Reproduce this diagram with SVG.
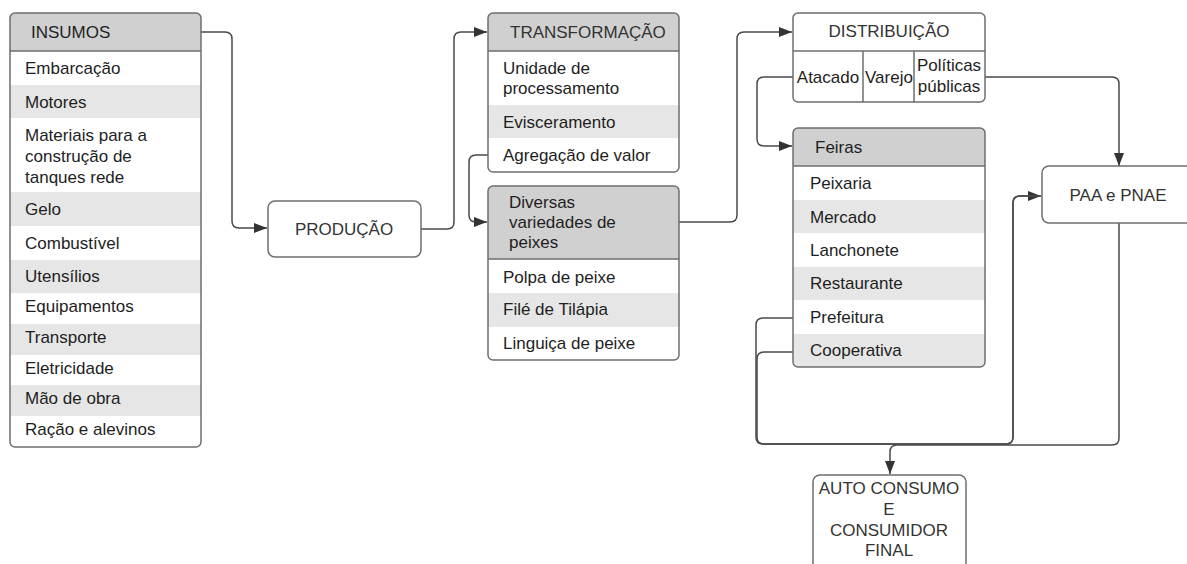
<svg xmlns="http://www.w3.org/2000/svg" width="1187" height="564" viewBox="0 0 1187 564">
<style>
text{font-family:"Liberation Sans",Arial,sans-serif;font-size:17px;fill:#1e1e1e}
.hdr{fill:#d0d0d0}
.alt{fill:#e6e6e6}
.frame{fill:none;stroke:#6e6e6e;stroke-width:1.5}
.sep{stroke:#6e6e6e;stroke-width:1.5}
.plain{fill:#ffffff;stroke:#6e6e6e;stroke-width:1.5}
.lbl{fill:#333333}
.c{text-anchor:middle}
.conn path{fill:none;stroke:#4a4a4a;stroke-width:1.5}
</style>
<defs>
<marker id="arr" markerUnits="userSpaceOnUse" markerWidth="14" markerHeight="12" refX="13" refY="5" orient="auto">
<path d="M0,0 L13,5 L0,10 Z" fill="#333"/>
</marker>
<clipPath id="cpIns"><rect x="10" y="13" width="191" height="434" rx="5"/></clipPath>
<clipPath id="cpTr"><rect x="488" y="13" width="191" height="159" rx="5"/></clipPath>
<clipPath id="cpDv"><rect x="488" y="186" width="191" height="174" rx="5"/></clipPath>
<clipPath id="cpFe"><rect x="793" y="128" width="192" height="239" rx="5"/></clipPath>
</defs>

<g class="conn" id="connectors">
<path d="M201,32 H225 Q232,32 232,39 V221 Q232,228 239,228 H267" marker-end="url(#arr)"/>
<path d="M421,229 H447 Q454,229 454,222 V39 Q454,32 461,32 H487" marker-end="url(#arr)"/>
<path d="M488,155 H476 Q469,155 469,162 V215 Q469,222 476,222 H487" marker-end="url(#arr)"/>
<path d="M679,222 H730 Q737,222 737,215 V39 Q737,32 744,32 H792" marker-end="url(#arr)"/>
<path d="M793,77 H764 Q757,77 757,84 V139 Q757,146 764,146 H792" marker-end="url(#arr)"/>
<path d="M985,77 H1112 Q1119,77 1119,84 V166" marker-end="url(#arr)"/>
<path d="M793,318 H763 Q756,318 756,325 V437 Q756,444 763,444 H1006 Q1013,444 1013,437 V203 Q1013,196 1020,196 H1041" marker-end="url(#arr)"/>
<path d="M793,352 H764 Q757,352 757,359 V437 Q757,444 764,444 H1006 Q1013,444 1013,437 V203 Q1013,196 1020,196 H1041"/>
<path d="M1119,223 V438 Q1119,445 1112,445 H897 Q890,445 890,452 V474" marker-end="url(#arr)"/>
</g>

<g id="insumos">
<g clip-path="url(#cpIns)">
<rect x="10" y="13" width="191" height="434" fill="#fff"/>
<rect class="hdr" x="10" y="13" width="191" height="38"/>
<rect class="alt" x="10" y="85" width="191" height="33"/>
<rect class="alt" x="10" y="192" width="191" height="34"/>
<rect class="alt" x="10" y="260" width="191" height="33"/>
<rect class="alt" x="10" y="324" width="191" height="31"/>
<rect class="alt" x="10" y="385" width="191" height="31"/>
</g>
<line class="sep" x1="10" y1="51" x2="201" y2="51"/>
<rect class="frame" x="10" y="13" width="191" height="434" rx="5"/>
<text x="31" y="38">INSUMOS</text>
<text x="25" y="74">Embarcação</text>
<text x="25" y="108">Motores</text>
<text x="25" y="141">Materiais para a</text>
<text x="25" y="162">construção de</text>
<text x="25" y="183">tanques rede</text>
<text x="25" y="215">Gelo</text>
<text x="25" y="249">Combustível</text>
<text x="25" y="282">Utensílios</text>
<text x="25" y="312">Equipamentos</text>
<text x="25" y="343">Transporte</text>
<text x="25" y="374">Eletricidade</text>
<text x="25" y="404">Mão de obra</text>
<text x="25" y="435">Ração e alevinos</text>
</g>

<g id="producao">
<rect class="plain" x="268" y="201" width="153" height="56" rx="7"/>
<text class="c lbl" x="344" y="235">PRODUÇÃO</text>
</g>

<g id="transformacao">
<g clip-path="url(#cpTr)">
<rect x="488" y="13" width="191" height="159" fill="#fff"/>
<rect class="hdr" x="488" y="13" width="191" height="38"/>
<rect class="alt" x="488" y="105" width="191" height="33"/>
</g>
<line class="sep" x1="488" y1="51" x2="679" y2="51"/>
<rect class="frame" x="488" y="13" width="191" height="159" rx="5"/>
<text x="510" y="38" class="lbl">TRANSFORMAÇÃO</text>
<text x="503" y="74">Unidade de</text>
<text x="503" y="94">processamento</text>
<text x="503" y="128">Evisceramento</text>
<text x="503" y="161">Agregação de valor</text>
</g>

<g id="variedades">
<g clip-path="url(#cpDv)">
<rect x="488" y="186" width="191" height="174" fill="#fff"/>
<rect class="hdr" x="488" y="186" width="191" height="73"/>
<rect class="alt" x="488" y="293" width="191" height="34"/>
</g>
<line class="sep" x1="488" y1="259" x2="679" y2="259"/>
<rect class="frame" x="488" y="186" width="191" height="174" rx="5"/>
<text x="509" y="208">Diversas</text>
<text x="509" y="228">variedades de</text>
<text x="509" y="248">peixes</text>
<text x="503" y="283">Polpa de peixe</text>
<text x="503" y="315">Filé de Tilápia</text>
<text x="503" y="349">Linguiça de peixe</text>
</g>

<g id="distribuicao">
<rect class="plain" x="793" y="13" width="192" height="89" rx="5"/>
<line class="sep" x1="793" y1="51" x2="985" y2="51"/>
<line class="sep" x1="863" y1="51" x2="863" y2="102"/>
<line class="sep" x1="914" y1="51" x2="914" y2="102"/>
<text class="c lbl" x="889" y="37">DISTRIBUIÇÃO</text>
<text class="c" x="828" y="83">Atacado</text>
<text class="c" x="889" y="83">Varejo</text>
<text class="c" x="949" y="71">Políticas</text>
<text class="c" x="949" y="92">públicas</text>
</g>

<g id="feiras">
<g clip-path="url(#cpFe)">
<rect x="793" y="128" width="192" height="239" fill="#fff"/>
<rect class="hdr" x="793" y="128" width="192" height="38"/>
<rect class="alt" x="793" y="200" width="192" height="33"/>
<rect class="alt" x="793" y="267" width="192" height="33"/>
<rect class="alt" x="793" y="334" width="192" height="33"/>
</g>
<line class="sep" x1="793" y1="166" x2="985" y2="166"/>
<rect class="frame" x="793" y="128" width="192" height="239" rx="5"/>
<text x="815" y="153">Feiras</text>
<text x="810" y="189">Peixaria</text>
<text x="810" y="223">Mercado</text>
<text x="810" y="256">Lanchonete</text>
<text x="810" y="289">Restaurante</text>
<text x="810" y="323">Prefeitura</text>
<text x="810" y="356">Cooperativa</text>
</g>

<g id="paa">
<rect class="plain" x="1042" y="166" width="160" height="57" rx="7"/>
<text class="c lbl" x="1118" y="201">PAA e PNAE</text>
</g>

<g id="auto">
<rect class="plain" x="813" y="475" width="153" height="100" rx="7"/>
<text class="c lbl" x="889" y="494">AUTO CONSUMO</text>
<text class="c lbl" x="889" y="515">E</text>
<text class="c lbl" x="889" y="536">CONSUMIDOR</text>
<text class="c lbl" x="889" y="556">FINAL</text>
</g>
</svg>
